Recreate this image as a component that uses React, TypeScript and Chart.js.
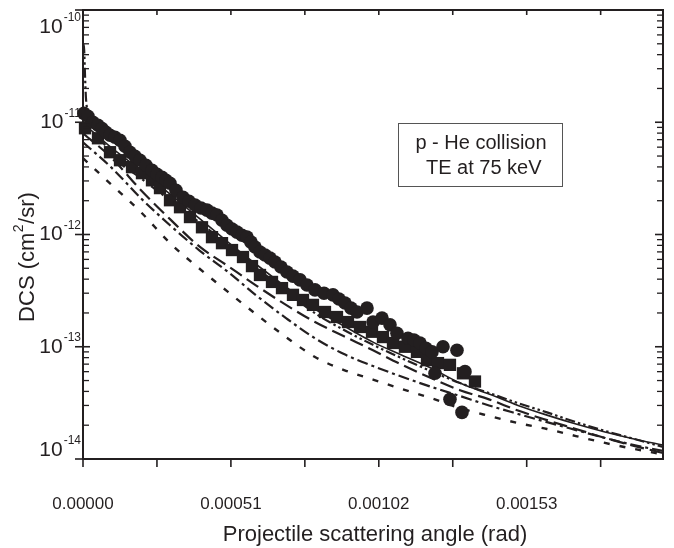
import React, { useEffect, useRef } from "react";
import { Chart, registerables } from "chart.js";

Chart.register(...registerables);

// ---------------- data ----------------
const xMajorTicks = [0, 0.00051, 0.00102, 0.00153];
const xTickLabels = ["0.00000", "0.00051", "0.00102", "0.00153"];
const xMinorTicks = [0.000255, 0.000765, 0.001275, 0.001785];
const yDecades = [1e-10, 1e-11, 1e-12, 1e-13, 1e-14];
const yTickBase = "10";
const yTickExp = ["-10", "-11", "-12", "-13", "-14"];

const xTitle = "Projectile scattering angle (rad)";
const yTitleParts = ["DCS (cm", "2", "/sr)"];
const boxLines = ["p - He collision", " TE at 75 keV"];

// experiment 1 (filled circles)
const circleX = [
  0.0000034, 0.0000172, 0.0000345, 0.0000517, 0.0000655, 0.0000793, 0.0000931, 0.0001103,
  0.0001276, 0.0001448, 0.0001621, 0.0001793, 0.0001965, 0.0002172, 0.0002379, 0.0002552,
  0.0002724, 0.0002862, 0.0003, 0.0003207, 0.0003448, 0.0003655, 0.0003862, 0.0004069,
  0.0004276, 0.0004448, 0.000462, 0.0004793, 0.0004965, 0.0005138, 0.000531, 0.0005482,
  0.0005655, 0.0005793, 0.0005931, 0.0006103, 0.0006276, 0.0006448, 0.000662, 0.0006827,
  0.0007034, 0.0007241, 0.0007482, 0.0007724, 0.0008, 0.000831, 0.000862, 0.0008827,
  0.0009034, 0.0009241, 0.0009448, 0.0009793, 0.001, 0.001031, 0.0010586, 0.0010827,
  0.0011206, 0.0011413, 0.001162, 0.0011827, 0.0012034, 0.0012138, 0.0012413, 0.0012654,
  0.0012896, 0.0013068, 0.0013172,
];
const circleY = [
  1.2e-11, 1.13e-11, 1.0e-11, 9.4e-12, 8.8e-12, 8.15e-12, 7.66e-12, 7.35e-12,
  6.91e-12, 6.12e-12, 5.41e-12, 4.98e-12, 4.59e-12, 4.14e-12, 3.74e-12, 3.44e-12,
  3.24e-12, 3.04e-12, 2.86e-12, 2.48e-12, 2.15e-12, 1.98e-12, 1.83e-12, 1.72e-12,
  1.65e-12, 1.55e-12, 1.49e-12, 1.34e-12, 1.21e-12, 1.12e-12, 1.05e-12, 9.86e-13,
  9.47e-13, 8.55e-13, 7.73e-13, 6.98e-13, 6.56e-13, 6.16e-13, 5.69e-13, 5.14e-13,
  4.64e-13, 4.26e-13, 3.94e-13, 3.55e-13, 3.21e-13, 3.0e-13, 2.9e-13, 2.66e-13,
  2.45e-13, 2.21e-13, 2.04e-13, 2.21e-13, 1.66e-13, 1.8e-13, 1.57e-13, 1.32e-13,
  1.19e-13, 1.15e-13, 1.08e-13, 9.7e-14, 9.0e-14, 5.8e-14, 1.0e-13, 3.4e-14,
  9.3e-14, 2.6e-14, 6.0e-14,
];

// experiment 2 (filled squares)
const squareX = [
  0.0000069, 0.0000517, 0.0000931, 0.0001276, 0.000169, 0.0002034, 0.0002379, 0.0002655,
  0.0003, 0.0003345, 0.0003689, 0.0004103, 0.0004448, 0.0004793, 0.0005138, 0.0005517,
  0.0005827, 0.0006103, 0.0006517, 0.0006862, 0.0007241, 0.0007586, 0.000793, 0.0008344,
  0.0008758, 0.0009137, 0.0009551, 0.0009965, 0.0010344, 0.0010689, 0.0011102, 0.0011516,
  0.0011861, 0.001224, 0.0012654, 0.0013102, 0.0013516,
];
const squareY = [
  8.84e-12, 7.2e-12, 5.41e-12, 4.59e-12, 3.98e-12, 3.52e-12, 3.04e-12, 2.59e-12,
  2.02e-12, 1.75e-12, 1.43e-12, 1.16e-12, 9.47e-13, 8.37e-13, 7.27e-13, 6.3e-13,
  5.23e-13, 4.36e-13, 3.78e-13, 3.33e-13, 2.9e-13, 2.61e-13, 2.36e-13, 2.04e-13,
  1.84e-13, 1.66e-13, 1.5e-13, 1.36e-13, 1.22e-13, 1.08e-13, 1.0e-13, 9.0e-14,
  7.6e-14, 7.15e-14, 6.9e-14, 5.8e-14, 4.9e-14,
];

// theory curves
const theoryX = [
  0, 0.0001, 0.0002, 0.0003, 0.0004, 0.0005, 0.0006, 0.0007, 0.0008, 0.0009, 0.001,
  0.0011, 0.0012, 0.0013, 0.0014, 0.0015, 0.0016, 0.0017, 0.0018, 0.0019, 0.002,
];
const solidY = [
  9.8e-12, 5.87e-12, 3.74e-12, 2.29e-12, 1.4e-12, 8.55e-13, 5.35e-13, 3.41e-13, 2.16e-13,
  1.53e-13, 1.1e-13, 8.4e-14, 6.46e-14, 4.75e-14, 3.79e-14, 3.0e-14, 2.46e-14, 2.05e-14,
  1.74e-14, 1.51e-14, 1.33e-14,
];
const dashedY = [
  7.98e-12, 4.78e-12, 2.48e-12, 1.37e-12, 7.87e-13, 5.23e-13, 3.47e-13, 2.36e-13, 1.66e-13,
  1.24e-13, 9.3e-14, 6.9e-14, 5.26e-14, 4.1e-14, 3.4e-14, 2.7e-14, 2.22e-14, 1.85e-14,
  1.54e-14, 1.31e-14, 1.13e-14,
];
const dashDotY = [
  6.64e-12, 3.9e-12, 2.1e-12, 1.21e-12, 7.27e-13, 4.64e-13, 2.83e-13, 1.8e-13, 1.19e-13,
  8.6e-14, 6.73e-14, 5.4e-14, 4.4e-14, 3.64e-14, 3.0e-14, 2.52e-14, 2.13e-14, 1.81e-14,
  1.54e-14, 1.33e-14, 1.18e-14,
];
const dottedY = [
  4.78e-12, 2.75e-12, 1.58e-12, 8.4e-13, 5.0e-13, 3.08e-13, 1.92e-13, 1.22e-13, 8.1e-14,
  6.2e-14, 5.1e-14, 4.2e-14, 3.49e-14, 2.84e-14, 2.42e-14, 2.09e-14, 1.85e-14, 1.6e-14,
  1.39e-14, 1.23e-14, 1.1e-14,
];
// curve with the small-angle rise
const spikeX = [
  0.0000012, 0.000004, 0.000007, 0.00001, 0.00002, 0.00005, 0.0001, 0.0002, 0.0003, 0.0004,
  0.0005, 0.0006, 0.0007, 0.0008, 0.0009, 0.001, 0.0011, 0.0012, 0.0013, 0.0014, 0.0015,
  0.0016, 0.0017, 0.0018, 0.0019, 0.002,
];
const spikeY = [
  5.0e-11, 4.4e-11, 2.6e-11, 1.67e-11, 1.2e-11, 8.2e-12, 5.08e-12, 3.17e-12, 2.02e-12,
  1.29e-12, 8.05e-13, 5.0e-13, 3.13e-13, 1.99e-13, 1.41e-13, 1.04e-13, 7.9e-14, 6.07e-14,
  4.75e-14, 3.87e-14, 3.15e-14, 2.6e-14, 2.13e-14, 1.78e-14, 1.51e-14, 1.28e-14,
];

// ---------------- styling ----------------
const INK = "#231f20";
const FONT = '"Liberation Sans", Arial, Helvetica, sans-serif';

const pts = (xs: number[], ys: number[]) => xs.map((x, i) => ({ x, y: ys[i] }));

const framePlugin = {
  id: "framePlugin",
  afterDraw(chart: any) {
    const { ctx, chartArea } = chart;
    const { left, right, top, bottom } = chartArea;
    const xs = chart.scales.x;
    const ys = chart.scales.y;
    const line = (x1: number, y1: number, x2: number, y2: number) => {
      ctx.beginPath();
      ctx.moveTo(x1, y1);
      ctx.lineTo(x2, y2);
      ctx.stroke();
    };
    ctx.save();
    ctx.strokeStyle = INK;
    ctx.fillStyle = INK;
    ctx.lineWidth = 2;
    ctx.strokeRect(left, top, right - left, bottom - top);

    ctx.lineWidth = 1.6;
    // x ticks
    [...xMajorTicks, ...xMinorTicks].forEach((v) => {
      const px = xs.getPixelForValue(v);
      line(px, bottom, px, bottom + 8);
      line(px, top, px, top + 5);
    });
    // y major ticks
    yDecades.forEach((d) => {
      const py = ys.getPixelForValue(d);
      line(left - 8, py, left + 7, py);
      line(right - 8, py, right, py);
    });
    // y minor ticks
    ctx.lineWidth = 1.3;
    for (let e = -14; e < -10; e++) {
      for (let m = 2; m <= 9; m++) {
        const py = ys.getPixelForValue(m * Math.pow(10, e));
        line(left, py, left + 6, py);
        line(right - 6, py, right, py);
      }
    }

    // x tick labels
    ctx.textBaseline = "middle";
    ctx.textAlign = "center";
    ctx.font = `17px ${FONT}`;
    xMajorTicks.forEach((v, i) => {
      ctx.fillText(xTickLabels[i], xs.getPixelForValue(v), 504);
    });

    // y tick labels with superscript
    yDecades.forEach((d, i) => {
      const py = ys.getPixelForValue(d);
      const cy = Math.min(Math.max(py, 27), 450);
      ctx.textAlign = "right";
      ctx.font = `12px ${FONT}`;
      const ew = ctx.measureText(yTickExp[i]).width;
      ctx.fillText(yTickExp[i], 81, cy - 9);
      ctx.font = `21px ${FONT}`;
      ctx.fillText(yTickBase, 81 - ew - 1, cy);
    });

    // x title
    ctx.textAlign = "center";
    ctx.font = `22px ${FONT}`;
    ctx.fillText(xTitle, 375, 535);

    // y title (rotated) with superscript
    ctx.save();
    ctx.translate(28, 257);
    ctx.rotate(-Math.PI / 2);
    ctx.textAlign = "left";
    ctx.font = `22px ${FONT}`;
    const w1 = ctx.measureText(yTitleParts[0]).width;
    const w3 = ctx.measureText(yTitleParts[2]).width;
    ctx.font = `14px ${FONT}`;
    const w2 = ctx.measureText(yTitleParts[1]).width;
    const total = w1 + w2 + w3 + 1;
    let sx = -total / 2;
    ctx.font = `22px ${FONT}`;
    ctx.fillText(yTitleParts[0], sx, 0);
    sx += w1;
    ctx.font = `14px ${FONT}`;
    ctx.fillText(yTitleParts[1], sx + 0.5, -9);
    sx += w2 + 1;
    ctx.font = `22px ${FONT}`;
    ctx.fillText(yTitleParts[2], sx, 0);
    ctx.restore();

    // annotation box
    ctx.lineWidth = 1;
    ctx.strokeStyle = "#555";
    ctx.strokeRect(398.5, 123.5, 164, 63);
    ctx.fillStyle = INK;
    ctx.font = `20px ${FONT}`;
    ctx.textAlign = "center";
    ctx.fillText(boxLines[0], 481, 143);
    ctx.fillText(boxLines[1], 481, 168);

    ctx.restore();
  },
};

export default function App() {
  const ref = useRef<HTMLCanvasElement | null>(null);

  useEffect(() => {
    document.body.style.margin = "0";
    const canvas = ref.current;
    if (!canvas) return;
    const lineDs = (label: string, ys: number[], xs: number[], dash: number[], width: number) => ({
      label,
      data: pts(xs, ys),
      showLine: true,
      borderColor: INK,
      backgroundColor: INK,
      borderWidth: width,
      borderDash: dash,
      pointRadius: 0,
      cubicInterpolationMode: "monotone" as const,
    });
    const chart = new Chart(canvas, {
      type: "scatter",
      data: {
        datasets: [
          {
            label: "Experiment (circles)",
            data: pts(circleX, circleY),
            pointStyle: "circle",
            pointRadius: 6.8,
            pointBackgroundColor: INK,
            pointBorderWidth: 0,
            showLine: false,
            clip: false as any,
          },
          {
            label: "Experiment (squares)",
            data: pts(squareX, squareY),
            pointStyle: "rect",
            pointRadius: 8.7,
            pointBackgroundColor: INK,
            pointBorderWidth: 0,
            showLine: false,
            clip: false as any,
          },
          lineDs("Theory solid", solidY, theoryX, [], 1.6),
          lineDs("Theory dash-dot-dot", spikeY, spikeX, [10, 3, 2.5, 3, 2.5, 3], 2.2),
          lineDs("Theory dashed", dashedY, theoryX, [14, 6], 2.2),
          lineDs("Theory dash-dot", dashDotY, theoryX, [11, 4, 3, 4], 2.2),
          lineDs("Theory dotted", dottedY, theoryX, [6, 10], 2.4),
        ],
      },
      options: {
        animation: false,
        responsive: false,
        maintainAspectRatio: false,
        layout: { padding: { left: 0, right: 11, top: 10, bottom: 0 } },
        plugins: { legend: { display: false }, tooltip: { enabled: false } },
        scales: {
          x: {
            type: "linear",
            min: 0,
            max: 0.002,
            grid: { display: false },
            border: { display: false },
            ticks: { display: false },
            afterFit: (s: any) => {
              s.height = 89;
            },
          },
          y: {
            type: "logarithmic",
            min: 1e-14,
            max: 1e-10,
            grid: { display: false },
            border: { display: false },
            ticks: { display: false },
            afterFit: (s: any) => {
              s.width = 83;
            },
          },
        },
      },
      plugins: [framePlugin],
    });
    return () => chart.destroy();
  }, []);

  return (
    <div style={{ width: 674, height: 548, background: "#fff" }}>
      <canvas ref={ref} width={674} height={548} style={{ display: "block" }} />
    </div>
  );
}
